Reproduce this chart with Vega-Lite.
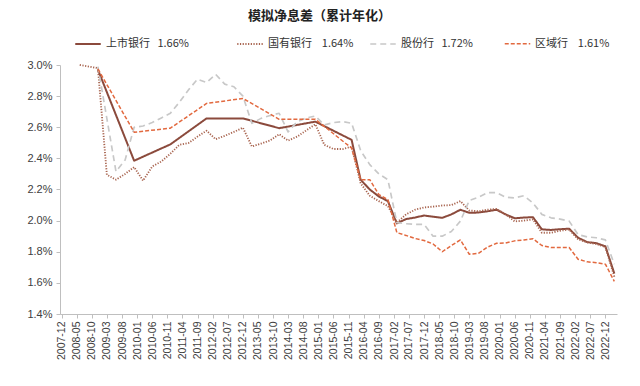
{
  "$schema": "https://vega.github.io/schema/vega-lite/v6.json",
  "autosize": "none",
  "width": 557,
  "height": 249,
  "padding": {"left": 60, "top": 65, "right": 23, "bottom": 72},
  "background": "white",
  "title": {
    "text": "模拟净息差（累计年化）",
    "font": "Noto Sans CJK SC",
    "fontSize": 13,
    "fontWeight": "bold",
    "color": "#222222",
    "anchor": "middle",
    "dx": -19,
    "offset": 7
  },
  "data": {
    "format": {"parse": {"date": "utc:'%Y-%m'"}},
    "values": [
      {"date": "2008-12", "series": "上市银行", "value": 2.97},
      {"date": "2009-12", "series": "上市银行", "value": 2.385},
      {"date": "2010-12", "series": "上市银行", "value": 2.49},
      {"date": "2011-12", "series": "上市银行", "value": 2.657},
      {"date": "2012-12", "series": "上市银行", "value": 2.657},
      {"date": "2013-12", "series": "上市银行", "value": 2.594},
      {"date": "2014-12", "series": "上市银行", "value": 2.636},
      {"date": "2015-12", "series": "上市银行", "value": 2.519},
      {"date": "2016-03", "series": "上市银行", "value": 2.263},
      {"date": "2016-06", "series": "上市银行", "value": 2.2},
      {"date": "2016-09", "series": "上市银行", "value": 2.155},
      {"date": "2016-12", "series": "上市银行", "value": 2.125},
      {"date": "2017-03", "series": "上市银行", "value": 1.982},
      {"date": "2017-06", "series": "上市银行", "value": 2.01},
      {"date": "2017-09", "series": "上市银行", "value": 2.02},
      {"date": "2017-12", "series": "上市银行", "value": 2.033},
      {"date": "2018-03", "series": "上市银行", "value": 2.025},
      {"date": "2018-06", "series": "上市银行", "value": 2.018},
      {"date": "2018-09", "series": "上市银行", "value": 2.04},
      {"date": "2018-12", "series": "上市银行", "value": 2.07},
      {"date": "2019-03", "series": "上市银行", "value": 2.05},
      {"date": "2019-06", "series": "上市银行", "value": 2.052},
      {"date": "2019-09", "series": "上市银行", "value": 2.06},
      {"date": "2019-12", "series": "上市银行", "value": 2.07},
      {"date": "2020-03", "series": "上市银行", "value": 2.04},
      {"date": "2020-06", "series": "上市银行", "value": 2.015},
      {"date": "2020-09", "series": "上市银行", "value": 2.02},
      {"date": "2020-12", "series": "上市银行", "value": 2.022},
      {"date": "2021-03", "series": "上市银行", "value": 1.944},
      {"date": "2021-06", "series": "上市银行", "value": 1.94},
      {"date": "2021-09", "series": "上市银行", "value": 1.945},
      {"date": "2021-12", "series": "上市银行", "value": 1.948},
      {"date": "2022-03", "series": "上市银行", "value": 1.89},
      {"date": "2022-06", "series": "上市银行", "value": 1.862},
      {"date": "2022-09", "series": "上市银行", "value": 1.855},
      {"date": "2022-12", "series": "上市银行", "value": 1.835},
      {"date": "2023-03", "series": "上市银行", "value": 1.66},

      {"date": "2008-06", "series": "国有银行", "value": 3.0},
      {"date": "2008-12", "series": "国有银行", "value": 2.98},
      {"date": "2009-03", "series": "国有银行", "value": 2.295},
      {"date": "2009-06", "series": "国有银行", "value": 2.263},
      {"date": "2009-09", "series": "国有银行", "value": 2.3},
      {"date": "2009-12", "series": "国有银行", "value": 2.344},
      {"date": "2010-03", "series": "国有银行", "value": 2.257},
      {"date": "2010-06", "series": "国有银行", "value": 2.348},
      {"date": "2010-09", "series": "国有银行", "value": 2.38},
      {"date": "2010-12", "series": "国有银行", "value": 2.43},
      {"date": "2011-03", "series": "国有银行", "value": 2.487},
      {"date": "2011-06", "series": "国有银行", "value": 2.498},
      {"date": "2011-09", "series": "国有银行", "value": 2.54},
      {"date": "2011-12", "series": "国有银行", "value": 2.578},
      {"date": "2012-03", "series": "国有银行", "value": 2.523},
      {"date": "2012-06", "series": "国有银行", "value": 2.545},
      {"date": "2012-09", "series": "国有银行", "value": 2.57},
      {"date": "2012-12", "series": "国有银行", "value": 2.597},
      {"date": "2013-03", "series": "国有银行", "value": 2.476},
      {"date": "2013-06", "series": "国有银行", "value": 2.495},
      {"date": "2013-09", "series": "国有银行", "value": 2.515},
      {"date": "2013-12", "series": "国有银行", "value": 2.555},
      {"date": "2014-03", "series": "国有银行", "value": 2.514},
      {"date": "2014-06", "series": "国有银行", "value": 2.54},
      {"date": "2014-09", "series": "国有银行", "value": 2.58},
      {"date": "2014-12", "series": "国有银行", "value": 2.619},
      {"date": "2015-03", "series": "国有银行", "value": 2.487},
      {"date": "2015-06", "series": "国有银行", "value": 2.46},
      {"date": "2015-09", "series": "国有银行", "value": 2.46},
      {"date": "2015-12", "series": "国有银行", "value": 2.475},
      {"date": "2016-03", "series": "国有银行", "value": 2.24},
      {"date": "2016-06", "series": "国有银行", "value": 2.16},
      {"date": "2016-09", "series": "国有银行", "value": 2.125},
      {"date": "2016-12", "series": "国有银行", "value": 2.093},
      {"date": "2017-03", "series": "国有银行", "value": 1.987},
      {"date": "2017-06", "series": "国有银行", "value": 2.04},
      {"date": "2017-09", "series": "国有银行", "value": 2.07},
      {"date": "2017-12", "series": "国有银行", "value": 2.085},
      {"date": "2018-03", "series": "国有银行", "value": 2.09},
      {"date": "2018-06", "series": "国有银行", "value": 2.097},
      {"date": "2018-09", "series": "国有银行", "value": 2.1},
      {"date": "2018-12", "series": "国有银行", "value": 2.125},
      {"date": "2019-03", "series": "国有银行", "value": 2.065},
      {"date": "2019-06", "series": "国有银行", "value": 2.06},
      {"date": "2019-09", "series": "国有银行", "value": 2.07},
      {"date": "2019-12", "series": "国有银行", "value": 2.075},
      {"date": "2020-03", "series": "国有银行", "value": 2.04},
      {"date": "2020-06", "series": "国有银行", "value": 1.995},
      {"date": "2020-09", "series": "国有银行", "value": 2.0},
      {"date": "2020-12", "series": "国有银行", "value": 2.008},
      {"date": "2021-03", "series": "国有银行", "value": 1.922},
      {"date": "2021-06", "series": "国有银行", "value": 1.922},
      {"date": "2021-09", "series": "国有银行", "value": 1.935},
      {"date": "2021-12", "series": "国有银行", "value": 1.943},
      {"date": "2022-03", "series": "国有银行", "value": 1.88},
      {"date": "2022-06", "series": "国有银行", "value": 1.86},
      {"date": "2022-09", "series": "国有银行", "value": 1.85},
      {"date": "2022-12", "series": "国有银行", "value": 1.83},
      {"date": "2023-03", "series": "国有银行", "value": 1.64},

      {"date": "2008-12", "series": "股份行", "value": 2.99},
      {"date": "2009-06", "series": "股份行", "value": 2.316},
      {"date": "2009-09", "series": "股份行", "value": 2.39},
      {"date": "2009-12", "series": "股份行", "value": 2.6},
      {"date": "2010-03", "series": "股份行", "value": 2.608},
      {"date": "2010-06", "series": "股份行", "value": 2.63},
      {"date": "2010-09", "series": "股份行", "value": 2.66},
      {"date": "2010-12", "series": "股份行", "value": 2.69},
      {"date": "2011-03", "series": "股份行", "value": 2.76},
      {"date": "2011-06", "series": "股份行", "value": 2.84},
      {"date": "2011-09", "series": "股份行", "value": 2.909},
      {"date": "2011-12", "series": "股份行", "value": 2.887},
      {"date": "2012-03", "series": "股份行", "value": 2.94},
      {"date": "2012-06", "series": "股份行", "value": 2.877},
      {"date": "2012-09", "series": "股份行", "value": 2.86},
      {"date": "2012-12", "series": "股份行", "value": 2.8},
      {"date": "2013-03", "series": "股份行", "value": 2.625},
      {"date": "2013-06", "series": "股份行", "value": 2.657},
      {"date": "2013-09", "series": "股份行", "value": 2.675},
      {"date": "2013-12", "series": "股份行", "value": 2.69},
      {"date": "2014-03", "series": "股份行", "value": 2.57},
      {"date": "2014-06", "series": "股份行", "value": 2.636},
      {"date": "2014-09", "series": "股份行", "value": 2.66},
      {"date": "2014-12", "series": "股份行", "value": 2.672},
      {"date": "2015-03", "series": "股份行", "value": 2.615},
      {"date": "2015-06", "series": "股份行", "value": 2.63},
      {"date": "2015-09", "series": "股份行", "value": 2.636},
      {"date": "2015-12", "series": "股份行", "value": 2.626},
      {"date": "2016-03", "series": "股份行", "value": 2.45},
      {"date": "2016-06", "series": "股份行", "value": 2.36},
      {"date": "2016-09", "series": "股份行", "value": 2.3},
      {"date": "2016-12", "series": "股份行", "value": 2.263},
      {"date": "2017-03", "series": "股份行", "value": 1.987},
      {"date": "2017-06", "series": "股份行", "value": 1.98},
      {"date": "2017-09", "series": "股份行", "value": 1.976},
      {"date": "2017-12", "series": "股份行", "value": 1.976},
      {"date": "2018-03", "series": "股份行", "value": 1.9},
      {"date": "2018-06", "series": "股份行", "value": 1.9},
      {"date": "2018-09", "series": "股份行", "value": 1.93},
      {"date": "2018-12", "series": "股份行", "value": 1.997},
      {"date": "2019-03", "series": "股份行", "value": 2.13},
      {"date": "2019-06", "series": "股份行", "value": 2.15},
      {"date": "2019-09", "series": "股份行", "value": 2.18},
      {"date": "2019-12", "series": "股份行", "value": 2.18},
      {"date": "2020-03", "series": "股份行", "value": 2.15},
      {"date": "2020-06", "series": "股份行", "value": 2.146},
      {"date": "2020-09", "series": "股份行", "value": 2.16},
      {"date": "2020-12", "series": "股份行", "value": 2.114},
      {"date": "2021-03", "series": "股份行", "value": 2.04},
      {"date": "2021-06", "series": "股份行", "value": 2.018},
      {"date": "2021-09", "series": "股份行", "value": 2.01},
      {"date": "2021-12", "series": "股份行", "value": 1.997},
      {"date": "2022-03", "series": "股份行", "value": 1.91},
      {"date": "2022-06", "series": "股份行", "value": 1.895},
      {"date": "2022-09", "series": "股份行", "value": 1.89},
      {"date": "2022-12", "series": "股份行", "value": 1.876},
      {"date": "2023-03", "series": "股份行", "value": 1.72},

      {"date": "2008-12", "series": "区域行", "value": 2.975},
      {"date": "2009-12", "series": "区域行", "value": 2.568},
      {"date": "2010-12", "series": "区域行", "value": 2.594},
      {"date": "2011-12", "series": "区域行", "value": 2.753},
      {"date": "2012-12", "series": "区域行", "value": 2.785},
      {"date": "2013-12", "series": "区域行", "value": 2.651},
      {"date": "2014-12", "series": "区域行", "value": 2.651},
      {"date": "2015-12", "series": "区域行", "value": 2.466},
      {"date": "2016-03", "series": "区域行", "value": 2.263},
      {"date": "2016-06", "series": "区域行", "value": 2.263},
      {"date": "2016-09", "series": "区域行", "value": 2.167},
      {"date": "2016-12", "series": "区域行", "value": 2.135},
      {"date": "2017-03", "series": "区域行", "value": 1.923},
      {"date": "2017-06", "series": "区域行", "value": 1.905},
      {"date": "2017-09", "series": "区域行", "value": 1.885},
      {"date": "2017-12", "series": "区域行", "value": 1.872},
      {"date": "2018-03", "series": "区域行", "value": 1.85},
      {"date": "2018-06", "series": "区域行", "value": 1.8},
      {"date": "2018-09", "series": "区域行", "value": 1.84},
      {"date": "2018-12", "series": "区域行", "value": 1.876},
      {"date": "2019-03", "series": "区域行", "value": 1.784},
      {"date": "2019-06", "series": "区域行", "value": 1.79},
      {"date": "2019-09", "series": "区域行", "value": 1.83},
      {"date": "2019-12", "series": "区域行", "value": 1.855},
      {"date": "2020-03", "series": "区域行", "value": 1.856},
      {"date": "2020-06", "series": "区域行", "value": 1.87},
      {"date": "2020-09", "series": "区域行", "value": 1.876},
      {"date": "2020-12", "series": "区域行", "value": 1.884},
      {"date": "2021-03", "series": "区域行", "value": 1.84},
      {"date": "2021-06", "series": "区域行", "value": 1.827},
      {"date": "2021-09", "series": "区域行", "value": 1.827},
      {"date": "2021-12", "series": "区域行", "value": 1.827},
      {"date": "2022-03", "series": "区域行", "value": 1.752},
      {"date": "2022-06", "series": "区域行", "value": 1.735},
      {"date": "2022-09", "series": "区域行", "value": 1.73},
      {"date": "2022-12", "series": "区域行", "value": 1.72},
      {"date": "2023-03", "series": "区域行", "value": 1.61}
    ]
  },
  "mark": {"type": "line", "strokeCap": "butt", "strokeJoin": "round"},
  "encoding": {
    "x": {
      "field": "date",
      "type": "temporal",
      "scale": {
        "type": "utc",
        "domain": [
          {"year": 2007, "month": 11, "date": 15, "utc": true},
          {"year": 2023, "month": 3, "date": 28, "utc": true}
        ]
      },
      "axis": {
        "title": null,
        "labelExpr": "utcFormat(datum.value, '%Y-%m')",
        "labelAngle": -90,
        "labelFont": "Liberation Sans",
        "labelFontSize": 10.5,
        "labelColor": "#404040",
        "labelPadding": 3,
        "labelOverlap": false,
        "labelFlush": false,
        "grid": false,
        "domainColor": "#BFBFBF",
        "tickColor": "#BFBFBF",
        "tickSize": 4,
        "values": [
          {"year": 2007, "month": 12, "date": 1, "utc": true},
          {"year": 2008, "month": 5, "date": 1, "utc": true},
          {"year": 2008, "month": 10, "date": 1, "utc": true},
          {"year": 2009, "month": 3, "date": 1, "utc": true},
          {"year": 2009, "month": 8, "date": 1, "utc": true},
          {"year": 2010, "month": 1, "date": 1, "utc": true},
          {"year": 2010, "month": 6, "date": 1, "utc": true},
          {"year": 2010, "month": 11, "date": 1, "utc": true},
          {"year": 2011, "month": 4, "date": 1, "utc": true},
          {"year": 2011, "month": 9, "date": 1, "utc": true},
          {"year": 2012, "month": 2, "date": 1, "utc": true},
          {"year": 2012, "month": 7, "date": 1, "utc": true},
          {"year": 2012, "month": 12, "date": 1, "utc": true},
          {"year": 2013, "month": 5, "date": 1, "utc": true},
          {"year": 2013, "month": 10, "date": 1, "utc": true},
          {"year": 2014, "month": 3, "date": 1, "utc": true},
          {"year": 2014, "month": 8, "date": 1, "utc": true},
          {"year": 2015, "month": 1, "date": 1, "utc": true},
          {"year": 2015, "month": 6, "date": 1, "utc": true},
          {"year": 2015, "month": 11, "date": 1, "utc": true},
          {"year": 2016, "month": 4, "date": 1, "utc": true},
          {"year": 2016, "month": 9, "date": 1, "utc": true},
          {"year": 2017, "month": 2, "date": 1, "utc": true},
          {"year": 2017, "month": 7, "date": 1, "utc": true},
          {"year": 2017, "month": 12, "date": 1, "utc": true},
          {"year": 2018, "month": 5, "date": 1, "utc": true},
          {"year": 2018, "month": 10, "date": 1, "utc": true},
          {"year": 2019, "month": 3, "date": 1, "utc": true},
          {"year": 2019, "month": 8, "date": 1, "utc": true},
          {"year": 2020, "month": 1, "date": 1, "utc": true},
          {"year": 2020, "month": 6, "date": 1, "utc": true},
          {"year": 2020, "month": 11, "date": 1, "utc": true},
          {"year": 2021, "month": 4, "date": 1, "utc": true},
          {"year": 2021, "month": 9, "date": 1, "utc": true},
          {"year": 2022, "month": 2, "date": 1, "utc": true},
          {"year": 2022, "month": 7, "date": 1, "utc": true},
          {"year": 2022, "month": 12, "date": 1, "utc": true}
        ]
      }
    },
    "y": {
      "field": "value",
      "type": "quantitative",
      "scale": {"domain": [1.4, 3.0], "nice": false, "zero": false},
      "axis": {
        "title": null,
        "values": [1.4, 1.6, 1.8, 2.0, 2.2, 2.4, 2.6, 2.8, 3.0],
        "labelExpr": "format(datum.value, '.1f') + '%'",
        "labelFont": "Liberation Sans",
        "labelFontSize": 11,
        "labelColor": "#404040",
        "labelPadding": 4,
        "grid": false,
        "domainColor": "#BFBFBF",
        "tickColor": "#BFBFBF",
        "tickSize": 4
      }
    },
    "color": {
      "field": "series",
      "type": "nominal",
      "sort": ["上市银行", "国有银行", "股份行", "区域行"],
      "scale": {
        "domain": ["上市银行", "国有银行", "股份行", "区域行"],
        "range": ["#8B4A3C", "#A8644F", "#C8C8C8", "#E2693F"]
      },
      "legend": {
        "title": null,
        "orient": "none",
        "legendX": 14,
        "legendY": -35,
        "direction": "horizontal",
        "symbolType": "stroke",
        "symbolSize": 650,
        "symbolStrokeWidth": 2,
        "labelFont": "Noto Sans CJK SC",
        "labelFontSize": 11,
        "labelColor": "#333333",
        "columnPadding": 12,
        "labelOffset": 4,
        "labelLimit": 300,
        "labelExpr": "datum.label == '上市银行' ? '上市银行\u00a0\u00a0\u00a01.66%\u2800\u2800\u2800\u2800' : datum.label == '国有银行' ? '国有银行\u00a0\u00a0\u00a0\u00a01.64%' : datum.label == '股份行' ? '股份行\u00a0\u00a0\u00a01.72%\u2800\u2800' : '区域行\u00a0\u00a0\u00a0\u00a01.61%'"
      }
    },
    "strokeDash": {
      "field": "series",
      "type": "nominal",
      "scale": {
        "domain": ["上市银行", "国有银行", "股份行", "区域行"],
        "range": [[1, 0], [1.2, 1.5], [6, 4], [4, 2]]
      },
      "legend": null
    },
    "strokeWidth": {
      "field": "series",
      "type": "nominal",
      "scale": {
        "domain": ["上市银行", "国有银行", "股份行", "区域行"],
        "range": [2, 1.5, 1.8, 1.6]
      },
      "legend": null
    }
  },
  "config": {
    "view": {"stroke": null}
  }
}
